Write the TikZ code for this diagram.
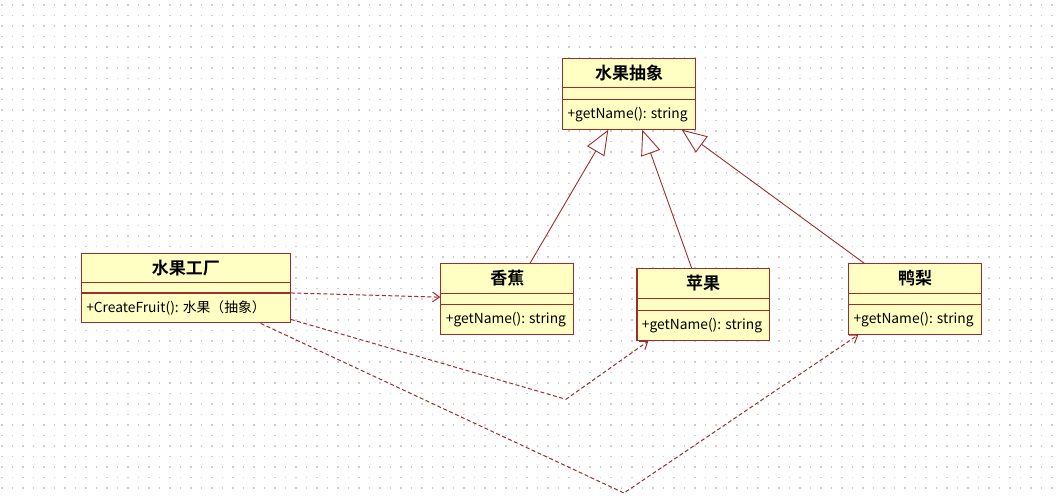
\documentclass[tikz,border=0pt]{standalone}
\usepackage{fontspec}
\setmainfont{Noto Sans CJK SC}[BoldFont={Noto Sans CJK SC Bold}]
\usetikzlibrary{arrows.meta,shapes.multipart,calc}
\definecolor{umlred}{RGB}{160,45,45}
\definecolor{umlfill}{RGB}{255,255,196}
\definecolor{griddot}{RGB}{205,205,205}
\tikzset{
  cls/.style={rectangle split, rectangle split parts=3, draw=umlred, fill=umlfill,
    line width=1.1pt, inner sep=0pt, anchor=north west},
  gen/.style={draw=umlred, line width=0.9pt, -{Triangle[length=25pt,width=20pt,fill=white]}},
  dep/.style={draw=umlred, line width=1pt, dash pattern=on 4pt off 2.5pt,
    -{Straight Barb[length=7pt,width=10pt]}},
  gridrow/.style={griddot, line width=1.4pt, dash pattern=on 1.4pt off 9.1pt}
}
\newcommand{\ctitle}[2]{\parbox[c][28.2pt][c]{#1}{\centering\bfseries\fontsize{17}{19}\selectfont #2}}
\newcommand{\cempty}[2]{\parbox[c][#2][c]{#1}{\mbox{}}}
\newcommand{\cmeth}[2]{\parbox[c][28.8pt][c]{#1}{\fontsize{13.8}{15}\selectfont\hspace*{5pt}#2}}
\begin{document}
\begin{tikzpicture}[x=1pt,y=-1pt]
\useasboundingbox (0,0) rectangle (1061,498);
\fill[white] (0,0) rectangle (1061,498);
\foreach \j in {0,...,46} {
  \draw[gridrow] (1.3,{5+10.5*\j}) -- (1061,{5+10.5*\j});
}
\node[cls] (abs) at (562,57.5) {\ctitle{133pt}{水果抽象}\nodepart{two}\cempty{133pt}{10.8pt}\nodepart{three}\cmeth{133pt}{+getName(): string}};
\node[cls] (fac) at (80.7,252.7) {\ctitle{209pt}{水果工厂}\nodepart{two}\cempty{209pt}{9.3pt}\nodepart{three}\cmeth{209pt}{+CreateFruit(): 水果（抽象）}};
\node[cls] (ban) at (440.3,263.3) {\ctitle{133pt}{香蕉}\nodepart{two}\cempty{133pt}{10.1pt}\nodepart{three}\cmeth{133pt}{+getName(): string}};
\node[cls] (app) at (636.4,268.3) {\ctitle{132.5pt}{苹果}\nodepart{two}\cempty{132.5pt}{11.3pt}\nodepart{three}\cmeth{132.5pt}{+getName(): string}};
\node[cls] (pea) at (848,263.3) {\ctitle{133pt}{鸭梨}\nodepart{two}\cempty{133pt}{10.1pt}\nodepart{three}\cmeth{133pt}{+getName(): string}};
\coordinate (v1) at (566,399.3);
\coordinate (v2) at (624,493);
\draw[gen] ($(ban.north west)+(89.7,0)$) -- ($(abs.south west)+(46.3,0)$);
\draw[gen] ($(app.north west)+(55.3,0)$) -- ($(abs.south west)+(80.3,0)$);
\draw[gen] ($(pea.north west)+(16.3,0)$) -- ($(abs.south west)+(119.7,0)$);
\draw[dep] (fac.two split east) -- ($(ban.one split west)+(0,4)$);
\draw[dep] ($(fac.south east)+(0,-4)$) -- (v1) -- ($(app.south west)+(12,0)$);
\draw[dep] ($(fac.south west)+(180,0)$) -- (v2) -- ($(pea.south west)+(10.3,0)$);
\end{tikzpicture}
\end{document}
